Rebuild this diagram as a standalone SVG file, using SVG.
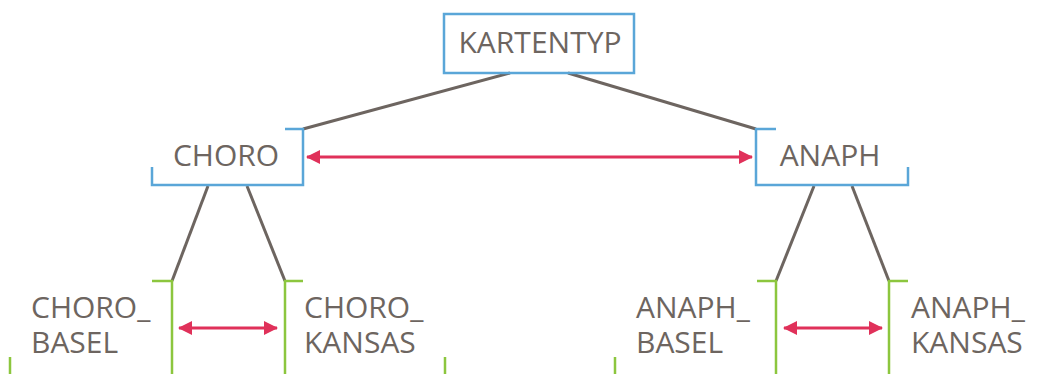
<svg xmlns="http://www.w3.org/2000/svg" width="1042" height="374" viewBox="0 0 1042 374">
<style>
.t{font-family:"Open Sans","Liberation Sans",sans-serif;font-size:30px;fill:#6D6560}
.blue{fill:none;stroke:#5AA6D8;stroke-width:2.5}
.green{fill:none;stroke:#8CC63E;stroke-width:2.5}
.edge{fill:none;stroke:#6D6560;stroke-width:3}
.rel{fill:none;stroke:#E0315A;stroke-width:3}
</style>
<defs>
<marker id="ah" viewBox="0 0 14 14" refX="13" refY="7" markerWidth="14" markerHeight="14" markerUnits="userSpaceOnUse" orient="auto-start-reverse">
<path d="M0,0 L14,7 L0,14 Z" fill="#E0315A"/>
</marker>
</defs>
<rect width="1042" height="374" fill="#fff"/>
<g id="connectors">
<line class="edge" x1="510" y1="73" x2="303" y2="129"/>
<line class="edge" x1="568" y1="73" x2="756" y2="129"/>
<line class="edge" x1="208" y1="186" x2="172" y2="281"/>
<line class="edge" x1="247" y1="186" x2="285" y2="281"/>
<line class="edge" x1="814" y1="186" x2="776" y2="281"/>
<line class="edge" x1="852" y1="186" x2="889" y2="281"/>
<line class="rel" x1="307" y1="157" x2="752" y2="157" marker-start="url(#ah)" marker-end="url(#ah)"/>
<line class="rel" x1="179" y1="328" x2="277" y2="328" marker-start="url(#ah)" marker-end="url(#ah)"/>
<line class="rel" x1="784" y1="328" x2="882" y2="328" marker-start="url(#ah)" marker-end="url(#ah)"/>
</g>
<g id="kartentyp">
<rect class="blue" x="444" y="14" width="190" height="59"/>
<text class="t" x="540" y="53" text-anchor="middle">KARTENTYP</text>
</g>
<g id="choro">
<path class="blue" d="M285,129 H303 V185 H152 V167"/>
<text class="t" x="226" y="166" text-anchor="middle">CHORO</text>
</g>
<g id="anaph">
<path class="blue" d="M776,129 H756 V185 H908 V167"/>
<text class="t" x="830" y="166" text-anchor="middle">ANAPH</text>
</g>
<g id="choro_basel">
<path class="green" d="M152,281 H172 V380 H10 V357"/>
<text class="t" x="31" y="318">CHORO_</text>
<text class="t" x="31" y="353">BASEL</text>
</g>
<g id="choro_kansas">
<path class="green" d="M303,281 H285 V380 H445 V357"/>
<text class="t" x="304" y="318">CHORO_</text>
<text class="t" x="304" y="353">KANSAS</text>
</g>
<g id="anaph_basel">
<path class="green" d="M757,281 H776 V380 H615 V357"/>
<text class="t" x="636" y="318">ANAPH_</text>
<text class="t" x="636" y="353">BASEL</text>
</g>
<g id="anaph_kansas">
<path class="green" d="M908,281 H889 V380 H1049 V357"/>
<text class="t" x="911" y="318">ANAPH_</text>
<text class="t" x="911" y="353">KANSAS</text>
</g>
</svg>
